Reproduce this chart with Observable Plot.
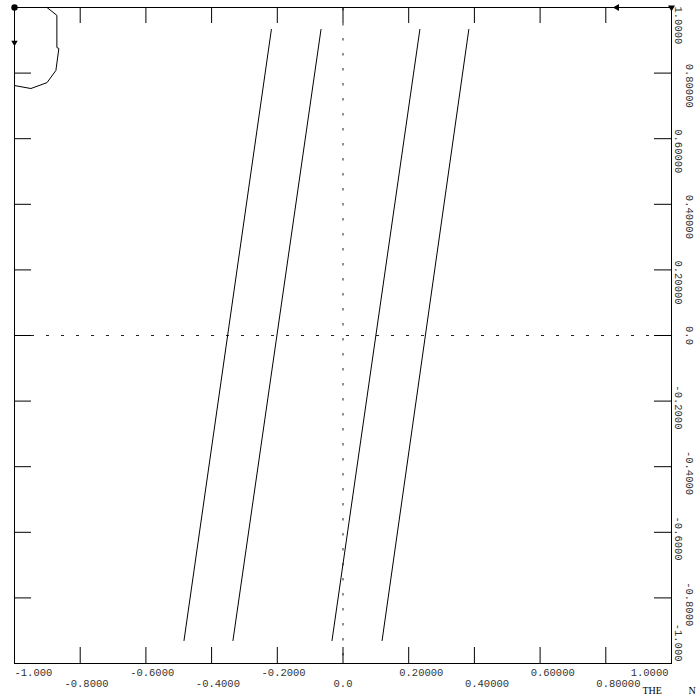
<!DOCTYPE html>
<html><head><meta charset="utf-8">
<script src="https://cdn.jsdelivr.net/npm/d3@7"></script>
<script src="https://cdn.jsdelivr.net/npm/@observablehq/plot@0.6"></script>
<style>body{margin:0;background:#fff}</style>
</head><body><div id="chart"></div>
<script>
// ---- data ----
const tickValues = [-0.8, -0.6, -0.4, -0.2, 0, 0.2, 0.4, 0.6, 0.8];
const labelValues = [-1, -0.8, -0.6, -0.4, -0.2, 0, 0.2, 0.4, 0.6, 0.8, 1];
const labelTexts = ["-1.000", "-0.8000", "-0.6000", "-0.4000", "-0.2000", "0.0",
                    "0.20000", "0.40000", "0.60000", "0.80000", "1.0000"];
const lineSeries = ["L1", "L2", "L3", "L4"];
const lineBottomX = [-0.484, -0.335, -0.0335, 0.119];
const lineTopX = [-0.218, -0.067, 0.234, 0.383];
const lineYEnds = [-0.93, 0.933];
const curveX = [-0.901, -0.871, -0.871, -0.865, -0.874, -0.901, -0.950, -1.0];
const curveY = [1.0, 0.976, 0.878, 0.875, 0.808, 0.771, 0.753, 0.762];
const cornerDot = {x: -1, y: 1};
const cornerArrow = {x: 1, y: 1};
const topArrow = {x: 0.834, y: 1};
const leftArrow = {x: -1, y: 0.893};
const footerWords = ["THE", "N"];

// ---- layout ----
const W = 698, H = 694, mL = 14, mR = 27, mT = 7, mB = 31;
const innerW = W - mL - mR, innerH = H - mT - mB;
const TL = 16;              // tick length
const CW = 6.3;             // monospace char width
const FONT = "'Liberation Mono', 'DejaVu Sans Mono', monospace";
const FS = 10.5;
const TXT = "#333";

const lineData = [];
lineSeries.forEach((s, i) => {
  lineData.push({s, x: lineBottomX[i], y: lineYEnds[0]});
  lineData.push({s, x: lineTopX[i], y: lineYEnds[1]});
});
const curveData = curveX.map((x, i) => ({x, y: curveY[i]}));

const last = labelValues.length - 1;
const xLabelMarks = labelValues.map((v, i) => {
  const s = labelTexts[i];
  let anchor = "start", dx = -(s.indexOf(".") + 0.5) * CW;
  if (i === 0) dx = 0;
  if (i === last) { anchor = "end"; dx = -3; }
  return Plot.text([v], {x: d => d, text: () => s, frameAnchor: "bottom",
    dy: i % 2 === 0 ? 9 : 20, dx, textAnchor: anchor, lineAnchor: "middle",
    fontFamily: FONT, fontSize: FS, fill: TXT});
});
const yLabelMarks = labelValues.map((v, i) => {
  const s = labelTexts[i];
  let anchor = "start", dy = -(s.indexOf(".") + 0.5) * CW;
  if (i === last) dy = -1;
  if (i === 0) { anchor = "end"; dy = -2; }
  return Plot.text([v], {y: d => d, text: () => s, frameAnchor: "right",
    dx: i % 2 === 0 ? 7 : 18, dy, rotate: 90, textAnchor: anchor, lineAnchor: "middle",
    fontFamily: FONT, fontSize: FS, fill: TXT});
});

const chart = Plot.plot({
  width: W, height: H,
  marginLeft: mL, marginRight: mR, marginTop: mT, marginBottom: mB,
  x: {domain: [-1, 1], axis: null},
  y: {domain: [-1, 1], axis: null},
  style: {background: "white"},
  marks: [
    Plot.ruleX([0], {stroke: "#222", strokeDasharray: "2.5,12.5", strokeDashoffset: -1}),
    Plot.ruleY([0], {stroke: "#222", strokeDasharray: "3,12", strokeDashoffset: -2}),
    Plot.frame({stroke: "black"}),
    Plot.tickX(tickValues, {x: d => d, insetTop: innerH - TL, stroke: "black"}),
    Plot.tickX(tickValues, {x: d => d, insetBottom: innerH - TL, stroke: "black"}),
    Plot.tickY(tickValues, {y: d => d, insetRight: innerW - TL - 1, stroke: "black"}),
    Plot.tickY(tickValues, {y: d => d, insetLeft: innerW - TL - 1, stroke: "black"}),
    Plot.line(lineData, {x: "x", y: "y", z: "s", stroke: "black", strokeWidth: 1}),
    Plot.line(curveData, {x: "x", y: "y", stroke: "black", strokeWidth: 1}),
    Plot.dot([cornerDot], {x: "x", y: "y", r: 3.2, fill: "black", stroke: "none"}),
    Plot.dot([cornerArrow], {x: "x", y: "y", symbol: "triangle", r: 2.6, rotate: 180, fill: "black", stroke: "none"}),
    Plot.dot([topArrow], {x: "x", y: "y", symbol: "triangle", r: 2.6, rotate: -90, fill: "black", stroke: "none"}),
    Plot.dot([leftArrow], {x: "x", y: "y", symbol: "triangle", r: 2.4, rotate: 180, fill: "black", stroke: "none"}),
    ...xLabelMarks,
    ...yLabelMarks,
    Plot.text([footerWords[0]], {text: d => d, frameAnchor: "bottom-right", dx: -29, dy: 30,
      textAnchor: "start", lineAnchor: "bottom", fontFamily: "'Liberation Serif', serif", fontSize: 10, fill: "black"}),
    Plot.text([footerWords[1]], {text: d => d, frameAnchor: "bottom-right", dx: 17, dy: 30,
      textAnchor: "start", lineAnchor: "bottom", fontFamily: "'Liberation Serif', serif", fontSize: 10, fill: "black"})
  ]
});
document.getElementById("chart").append(chart);
</script>
</body></html>
